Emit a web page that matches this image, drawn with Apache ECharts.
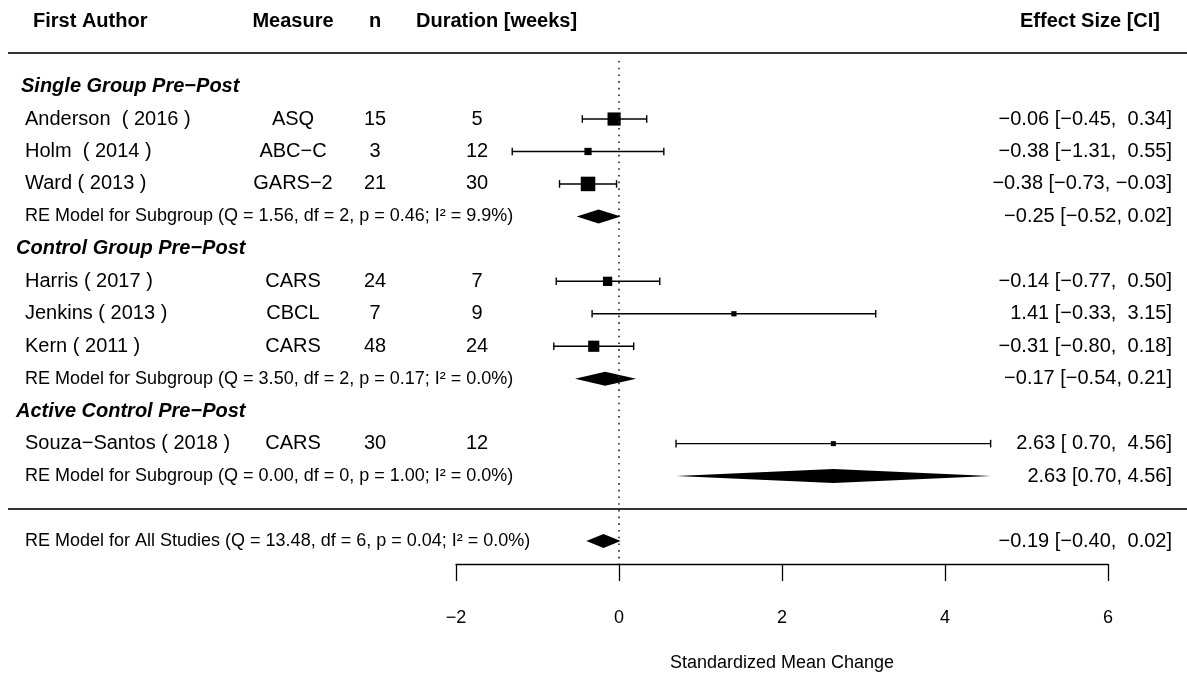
<!DOCTYPE html>
<html><head><meta charset="utf-8">
<script src="https://cdn.jsdelivr.net/npm/echarts@6/dist/echarts.min.js"></script>
<style>html,body{margin:0;padding:0;background:#fff}#c{width:1187px;height:677px}</style>
</head><body><div id="c"></div>
<script>
// ---------------- data ----------------
const groupNames = ["Single Group Pre\u2212Post", "Control Group Pre\u2212Post", "Active Control Pre\u2212Post"];
const authors = ["Anderson  ( 2016 )", "Holm  ( 2014 )", "Ward ( 2013 )", "Harris ( 2017 )", "Jenkins ( 2013 )", "Kern ( 2011 )", "Souza\u2212Santos ( 2018 )"];
const studyGroup = [0, 0, 0, 1, 1, 1, 2];
const measures = ["ASQ", "ABC\u2212C", "GARS\u22122", "CARS", "CBCL", "CARS", "CARS"];
const nValues = [15, 3, 21, 24, 7, 48, 30];
const durations = [5, 12, 30, 7, 9, 24, 12];
const effects = [-0.06, -0.38, -0.38, -0.14, 1.41, -0.31, 2.63];
const ciLower = [-0.45, -1.31, -0.73, -0.77, -0.33, -0.80, 0.70];
const ciUpper = [0.34, 0.55, -0.03, 0.50, 3.15, 0.18, 4.56];
const subEffects = [-0.25, -0.17, 2.63];
const subLower = [-0.52, -0.54, 0.70];
const subUpper = [0.02, 0.21, 4.56];
const subQ = ["1.56", "3.50", "0.00"];
const subDf = [2, 2, 0];
const subP = ["0.46", "0.17", "1.00"];
const subI2 = ["9.9", "0.0", "0.0"];
const allEffect = -0.19, allLower = -0.40, allUpper = 0.02;
const allQ = "13.48", allDf = 6, allP = "0.04", allI2 = "0.0";
const headers = ["First Author", "Measure", "n", "Duration [weeks]", "Effect Size [CI]"];
const xTicks = [-2, 0, 2, 4, 6];
const xTitle = "Standardized Mean Change";

// ---------------- layout helpers ----------------
const W = 1187, H = 677;
const pxPerUnit = 652 / 8;                 // -2 .. 6 spans 652 px
const xMin = -2 - 456 / pxPerUnit;
const xMax = 6 + (W - 1108) / pxPerUnit;
const rowPx = 32.46;
const yMax = -1 + 541 / rowPx;
const yMin = -1 - (H - 541) / rowPx;
const px2x = p => xMin + p / pxPerUnit;
const FONT = "'Liberation Sans', Arial, Helvetica, sans-serif";
const minus = s => s.replace(/-/g, "\u2212");
const f2 = v => minus(v.toFixed(2));
const pad = (s, w) => s.padStart(w, " ");

// column positions
const colAuthor = px2x(25), colGroup0 = px2x(21), colGroup = px2x(16), colHeadAuthor = px2x(33);
const colMeasure = px2x(293), colN = px2x(375), colDur = px2x(477), colDurHead = px2x(416);
const colEffect = px2x(1172), colEffectHead = px2x(1160);

const texts = [];   // {x,row,text,align,weight,style,size}
const add = (x, row, text, align, opt) => texts.push(Object.assign({x, row, text, align, weight: 'normal', style: 'normal', size: 20}, opt || {}));

// headers
add(colHeadAuthor, 15, headers[0], 'left', {weight: 'bold'});
add(colMeasure, 15, headers[1], 'center', {weight: 'bold'});
add(colN, 15, headers[2], 'center', {weight: 'bold'});
add(colDurHead, 15, headers[3], 'left', {weight: 'bold'});
add(colEffectHead, 15, headers[4], 'right', {weight: 'bold'});

const wLo = Math.max(...ciLower.map(v => f2(v).length));
const wHi = Math.max(...ciUpper.map(v => f2(v).length));

const ciData = [], sqData = [], diaData = [];
const invW = ciLower.map((l, i) => 1 / (ciUpper[i] - l));
const iMin = Math.min(...invW), iMax = Math.max(...invW);

let row = 13;
groupNames.forEach((g, gi) => {
  add(gi === 0 ? colGroup0 : colGroup, row, g, 'left', {weight: 'bold', style: 'italic'});
  row--;
  studyGroup.forEach((sg, i) => {
    if (sg !== gi) return;
    add(colAuthor, row, authors[i], 'left');
    add(colMeasure, row, measures[i], 'center');
    add(colN, row, String(nValues[i]), 'center');
    add(colDur, row, String(durations[i]), 'center');
    add(colEffect, row, f2(effects[i]) + " [" + pad(f2(ciLower[i]), wLo) + ", " + pad(f2(ciUpper[i]), wHi) + "]", 'right');
    ciData.push([ciLower[i], ciUpper[i], row]);
    sqData.push([effects[i], row, 5 + 9.5 * (invW[i] - iMin) / (iMax - iMin)]);
    row--;
  });
  add(colAuthor, row, "RE Model for Subgroup (Q = " + subQ[gi] + ", df = " + subDf[gi] + ", p = " + subP[gi] + "; I\u00B2 = " + subI2[gi] + "%)", 'left', {size: 18});
  add(colEffect, row, f2(subEffects[gi]) + " [" + f2(subLower[gi]) + ", " + f2(subUpper[gi]) + "]", 'right');
  diaData.push([subLower[gi], subEffects[gi], subUpper[gi], row]);
  row--;
});
const allRow = row - 1;
add(colAuthor, allRow, "RE Model for All Studies (Q = " + allQ + ", df = " + allDf + ", p = " + allP + "; I\u00B2 = " + allI2 + "%)", 'left', {size: 18});
add(colEffect, allRow, f2(allEffect) + " [" + pad(f2(allLower), wLo) + ", " + pad(f2(allUpper), wHi) + "]", 'right');
diaData.push([allLower, allEffect, allUpper, allRow]);

const topRule = 14.03, bottomRule = allRow + 1;
const axisRow = -1 - (564 - 541) / rowPx;
const dotTop = -1 + (541 - 61) / rowPx;

const chart = echarts.init(document.getElementById('c'), null, {renderer: 'canvas'});
chart.setOption({
  animation: false,
  backgroundColor: '#fff',
  grid: [
    {left: 0, right: 0, top: 0, bottom: 0},
    {left: 456, width: 652, top: 563, height: 1}
  ],
  xAxis: [
    {gridIndex: 0, type: 'value', min: xMin, max: xMax, show: false},
    {gridIndex: 1, type: 'value', min: -2, max: 6, interval: 2, position: 'bottom',
      axisLine: {show: true, lineStyle: {color: '#000', width: 1.3}},
      axisTick: {show: true, length: 17, inside: false, lineStyle: {color: '#000', width: 1.3}},
      axisLabel: {margin: 45, fontSize: 18, color: '#000', fontFamily: FONT, formatter: v => minus(String(v))},
      splitLine: {show: false},
      name: xTitle, nameLocation: 'middle', nameGap: 90,
      nameTextStyle: {fontSize: 18, color: '#000', fontFamily: FONT}
    }
  ],
  yAxis: [
    {gridIndex: 0, type: 'value', min: yMin, max: yMax, show: false},
    {gridIndex: 1, type: 'value', min: 0, max: 1, show: false}
  ],
  series: [
    {
      type: 'custom', name: 'table', silent: true, xAxisIndex: 0, yAxisIndex: 0,
      data: texts.map(t => [t.x, t.row]),
      renderItem: (params, api) => {
        const t = texts[params.dataIndex];
        const p = api.coord([api.value(0), api.value(1)]);
        return {type: 'text', x: p[0], y: p[1], style: {
          text: t.text, fontSize: t.size, fontWeight: t.weight, fontStyle: t.style, fontFamily: FONT,
          align: t.align, verticalAlign: 'middle', fill: '#000'}};
      },
      markLine: {
        silent: true, symbol: 'none', label: {show: false},
        data: [
          [{coord: [0, dotTop], lineStyle: {type: [1.6, 5.1], width: 1.6, color: '#222'}}, {coord: [0, axisRow]}],
          [{coord: [px2x(8), topRule], lineStyle: {type: 'solid', width: 2, color: '#333'}}, {coord: [xMax, topRule]}],
          [{coord: [px2x(8), bottomRule], lineStyle: {type: 'solid', width: 2, color: '#333'}}, {coord: [xMax, bottomRule]}]
        ]
      }
    },
    {
      type: 'custom', name: 'ci', silent: true, xAxisIndex: 0, yAxisIndex: 0,
      data: ciData,
      renderItem: (params, api) => {
        const lo = api.coord([api.value(0), api.value(2)]);
        const hi = api.coord([api.value(1), api.value(2)]);
        const c = 3.8, st = {stroke: '#000', lineWidth: 1.4};
        return {type: 'group', children: [
          {type: 'line', shape: {x1: lo[0], y1: lo[1], x2: hi[0], y2: hi[1]}, style: st},
          {type: 'line', shape: {x1: lo[0], y1: lo[1] - c, x2: lo[0], y2: lo[1] + c}, style: st},
          {type: 'line', shape: {x1: hi[0], y1: hi[1] - c, x2: hi[0], y2: hi[1] + c}, style: st}
        ]};
      }
    },
    {
      type: 'custom', name: 'points', silent: true, xAxisIndex: 0, yAxisIndex: 0,
      data: sqData,
      renderItem: (params, api) => {
        const p = api.coord([api.value(0), api.value(1)]);
        const s = api.value(2);
        return {type: 'rect', shape: {x: p[0] - s / 2, y: p[1] - s / 2, width: s, height: s}, style: {fill: '#000'}};
      }
    },
    {
      type: 'custom', name: 'summary', silent: true, xAxisIndex: 0, yAxisIndex: 0,
      data: diaData,
      renderItem: (params, api) => {
        const lo = api.coord([api.value(0), api.value(3)]);
        const md = api.coord([api.value(1), api.value(3)]);
        const hi = api.coord([api.value(2), api.value(3)]);
        const h = 7;
        return {type: 'polygon', shape: {points: [[lo[0], lo[1]], [md[0], md[1] - h], [hi[0], hi[1]], [md[0], md[1] + h]]}, style: {fill: '#000'}};
      }
    }
  ]
});
</script>
</body></html>
